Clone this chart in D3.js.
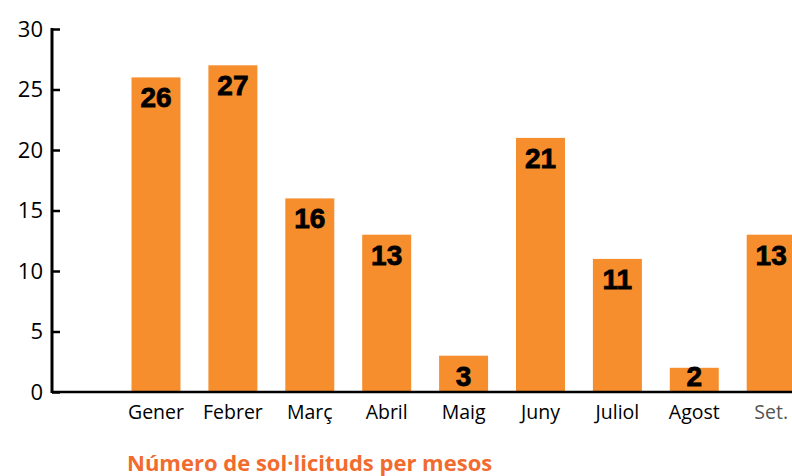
<!DOCTYPE html>
<html><head><meta charset="utf-8">
<script src="https://cdn.jsdelivr.net/npm/d3@7"></script>
<style>body{margin:0;background:#fff}svg{display:block}</style>
</head><body>
<script>
const months = ["Gener","Febrer","Març","Abril","Maig","Juny","Juliol","Agost","Set."];
const values = [26,27,16,13,3,21,11,2,13];
const yTicks = [0,5,10,15,20,25,30];
const title = "Número de sol·licituds per mesos";

const W = 792, H = 476;
const svg = d3.select("body").append("svg").attr("width", W).attr("height", H);

const y = d3.scaleLinear().domain([0,30]).range([392,29]);
const step = 76.9, pInner = 0.363;
const x = d3.scaleBand().domain(["", ...months])
  .range([131.5 - step, 131.5 - step + step*(10 - pInner)])
  .paddingInner(pInner).paddingOuter(0);

const font = "'Open Sans', 'Liberation Sans', sans-serif";

// bars
svg.selectAll("rect.bar").data(months).join("rect")
  .attr("x", d => x(d)).attr("width", x.bandwidth())
  .attr("y", (d,i) => y(values[i])).attr("height", (d,i) => y(0) - y(values[i]))
  .attr("fill", "#F68E2E");

// x axis line
svg.append("line").attr("x1", 52).attr("x2", W).attr("y1", 392).attr("y2", 392)
  .attr("stroke", "#000").attr("stroke-width", 2.5);

// y axis
const yAxis = svg.append("g").attr("transform", "translate(52,0)")
  .call(d3.axisRight(y).tickValues(yTicks).tickSize(8).tickFormat(""));
yAxis.select(".domain").attr("stroke", "#000").attr("stroke-width", 3).attr("d", "M0,28V393");
yAxis.selectAll(".tick line").attr("stroke", "#000").attr("stroke-width", 2.5);
svg.selectAll("text.ytl").data(yTicks).join("text")
  .attr("x", 43).attr("y", d => y(d)).attr("dy", "0.36em")
  .attr("text-anchor", "end").attr("font-family", font).attr("font-size", 22).attr("fill", "#000")
  .text(d => d);

// x labels
svg.selectAll("text.xl").data(months).join("text")
  .attr("x", d => x(d) + x.bandwidth()/2).attr("y", 419)
  .attr("text-anchor", "middle").attr("font-family", font).attr("font-size", 19.5)
  .attr("fill", d => d === "Set." ? "#555" : "#000")
  .text(d => d);

// value labels
svg.selectAll("text.vl").data(months).join("text")
  .attr("x", d => x(d) + x.bandwidth()/2)
  .attr("y", (d,i) => Math.min(y(values[i]) + 30, y(0) - 6))
  .attr("text-anchor", "middle").attr("font-family", "'Liberation Sans', Arial, sans-serif")
  .attr("font-weight", "bold").attr("font-size", 28).attr("fill", "#000")
  .attr("stroke", "#000").attr("stroke-width", 0.8)
  .text((d,i) => values[i]);

// title
svg.append("text").attr("x", 127).attr("y", 471)
  .attr("font-family", font).attr("font-weight", "bold").attr("font-size", 22)
  .attr("fill", "#F26B2E").text(title);
</script>
</body></html>
